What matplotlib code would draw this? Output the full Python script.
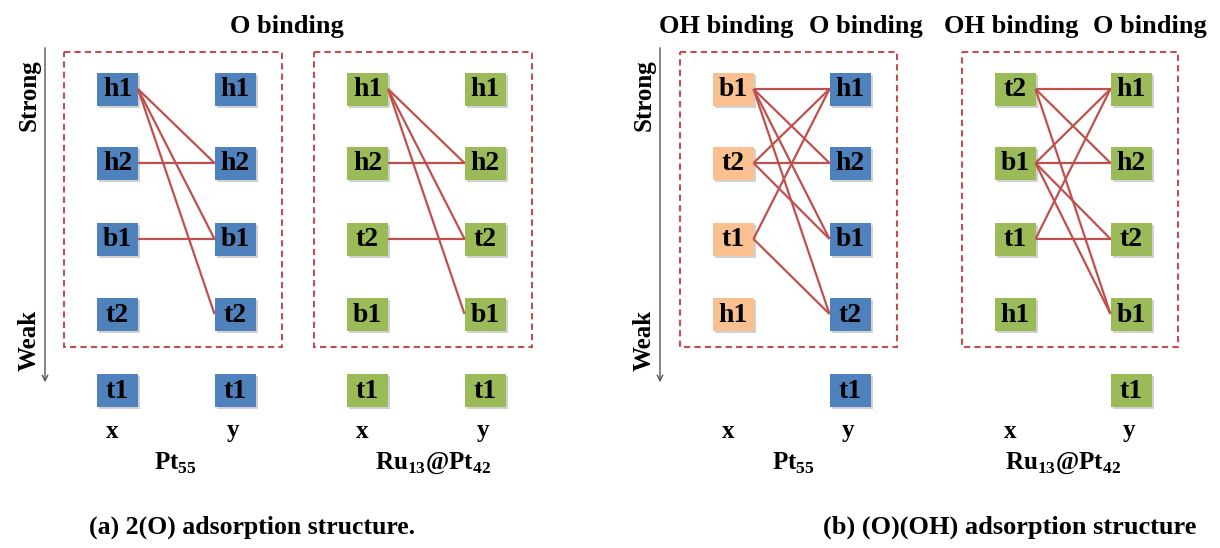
import matplotlib
matplotlib.use('Agg')
import matplotlib.pyplot as plt
from matplotlib.patches import Rectangle

plt.rcParams['font.family'] = ['Liberation Serif', 'DejaVu Serif']
plt.rcParams['font.weight'] = 'bold'
plt.rcParams['mathtext.fontset'] = 'custom'
plt.rcParams['mathtext.rm'] = 'Liberation Serif:bold'
plt.rcParams['mathtext.bf'] = 'Liberation Serif:bold'

# site ordering (strong -> weak) for each structure
a_pt_x = ['h1', 'h2', 'b1', 't2', 't1']
a_pt_y = ['h1', 'h2', 'b1', 't2', 't1']
a_pt_edges = [(0, 1), (0, 2), (0, 3), (1, 1), (2, 2)]

a_ru_x = ['h1', 'h2', 't2', 'b1', 't1']
a_ru_y = ['h1', 'h2', 't2', 'b1', 't1']
a_ru_edges = [(0, 1), (0, 2), (0, 3), (1, 1), (2, 2)]

b_pt_x = ['b1', 't2', 't1', 'h1']
b_pt_y = ['h1', 'h2', 'b1', 't2', 't1']
b_pt_edges = [(0, 0), (0, 1), (0, 2), (0, 3), (1, 0), (1, 1), (1, 2), (2, 0), (2, 3)]

b_ru_x = ['t2', 'b1', 't1', 'h1']
b_ru_y = ['h1', 'h2', 't2', 'b1', 't1']
b_ru_edges = [(0, 0), (0, 1), (0, 3), (1, 0), (1, 1), (1, 2), (1, 3), (2, 0), (2, 2)]

BLUE = '#4F81BD'
GREEN = '#9BBB59'
PEACH = '#FAC090'
RED = '#C0504D'

row_y = [89, 163, 239, 314, 390]
BW, BH = 41, 33

fig = plt.figure(figsize=(12.2, 5.48), dpi=100)
ax = fig.add_axes([0, 0, 1, 1])
ax.set_xlim(0, 1220)
ax.set_ylim(548, 0)
ax.axis('off')


def draw_box(cx, cy, label, color):
    ax.add_patch(Rectangle((cx - BW / 2 + 2, cy - BH / 2 + 2), BW, BH,
                           facecolor='#999999', edgecolor='none', alpha=0.45, zorder=2))
    ax.add_patch(Rectangle((cx - BW / 2, cy - BH / 2), BW, BH,
                           facecolor=color, edgecolor='none', zorder=3))
    ax.text(cx, cy + 1, label, ha='center', va='center', fontsize=20,
            fontweight='bold', color='black', zorder=4)


def draw_panel(xl, xr, left, right, edges, cl, cr, frame, name, name_x):
    for i, s in enumerate(left):
        draw_box(xl, row_y[i], s, cl)
    for j, s in enumerate(right):
        draw_box(xr, row_y[j], s, cr)
    for i, j in edges:
        ax.plot([xl + BW / 2, xr - BW / 2], [row_y[i], row_y[j]],
                color=RED, lw=1.6, zorder=5, solid_capstyle='butt')
    x0, x1 = frame
    ax.add_patch(Rectangle((x0, 52), x1 - x0, 295, fill=False, edgecolor=RED,
                           lw=1.5, linestyle=(0, (3, 2)), zorder=1))
    ax.text(xl - 5, 431, 'x', ha='center', va='center', fontsize=18)
    ax.text(xr - 2, 431, 'y', ha='center', va='center', fontsize=18)
    ax.text(name_x, 463, name, ha='center', va='center', fontsize=18)


def strength_axis(x):
    ax.annotate('', xy=(x, 385), xytext=(x, 45),
                arrowprops=dict(arrowstyle='->', color='#555555', lw=1.0))
    ax.text(x - 16, 95, 'Strong', rotation=90, ha='center', va='center', fontsize=18)
    ax.text(x - 16, 340, 'Weak', rotation=90, ha='center', va='center', fontsize=18)


strength_axis(45)
strength_axis(660)

draw_panel(117.5, 235, a_pt_x, a_pt_y, a_pt_edges, BLUE, BLUE, (64, 282),
           'Pt$_{55}$', 175)
draw_panel(367.5, 485, a_ru_x, a_ru_y, a_ru_edges, GREEN, GREEN, (314, 532),
           'Ru$_{13}$@Pt$_{42}$', 433)
draw_panel(733, 850, b_pt_x, b_pt_y, b_pt_edges, PEACH, BLUE, (680, 897),
           'Pt$_{55}$', 793)
draw_panel(1015, 1131, b_ru_x, b_ru_y, b_ru_edges, GREEN, GREEN, (962, 1178),
           'Ru$_{13}$@Pt$_{42}$', 1063)

ax.text(287, 27, 'O binding', ha='center', va='center', fontsize=19)
for x, s in [(726, 'OH binding'), (866, 'O binding'),
             (1011, 'OH binding'), (1150, 'O binding')]:
    ax.text(x, 27, s, ha='center', va='center', fontsize=19)

ax.text(252, 527, '(a) 2(O) adsorption structure.', ha='center', va='center', fontsize=18.5)
ax.text(1010, 527, '(b) (O)(OH) adsorption structure', ha='center', va='center', fontsize=19)

fig.savefig('out.png', dpi=100)
